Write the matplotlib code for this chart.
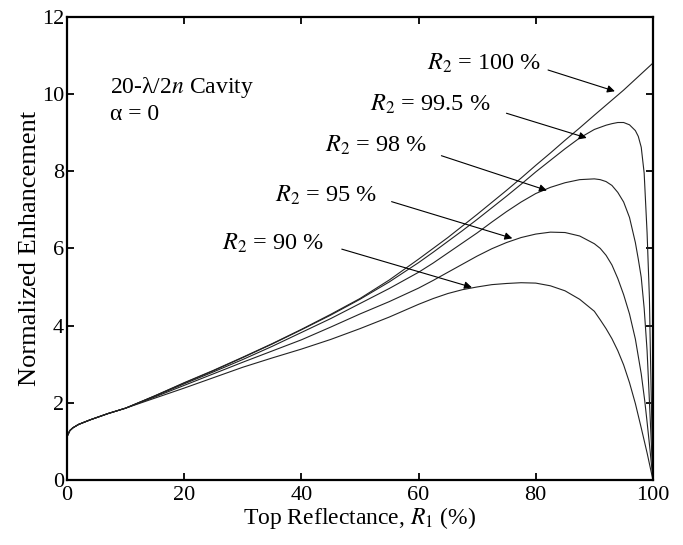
"""
RCE 腔增强因子随顶部反射率的变化 (α = 0)
"""
import numpy as np
import matplotlib
matplotlib.use('Agg')
import matplotlib.pyplot as plt

plt.rcParams['font.family'] = ['Liberation Serif', 'DejaVu Serif']
plt.rcParams['mathtext.fontset'] = 'stix'

# --- 数据: 顶部反射率 R1 (%) 与归一化增强 ---
r1_low = [0, 0.5, 1, 2, 4, 7, 10]
enh_low = [1.12, 1.28, 1.35, 1.44, 1.56, 1.72, 1.86]

r1_mid = [15, 20, 25, 30, 35, 40, 45, 50, 55, 60, 62.5, 65, 67.5, 70,
          72.5, 75, 77.5, 80, 82.5, 85, 87.5, 90]

# 各 R2 曲线在 r1_mid 上的取值
enh_100_mid = [2.18, 2.52, 2.84, 3.18, 3.53, 3.90, 4.29, 4.70, 5.18, 5.72, 6.00, 6.28, 6.58, 6.88,
               7.19, 7.50, 7.82, 8.15, 8.47, 8.80, 9.12, 9.45]
enh_995_mid = [2.18, 2.51, 2.83, 3.17, 3.52, 3.89, 4.27, 4.68, 5.13, 5.63, 5.90, 6.18, 6.46, 6.75,
               7.05, 7.35, 7.66, 7.98, 8.28, 8.58, 8.86, 9.08]
enh_98_mid = [2.17, 2.49, 2.80, 3.12, 3.46, 3.82, 4.18, 4.57, 4.96, 5.38, 5.62, 5.88, 6.14, 6.40,
              6.68, 6.95, 7.20, 7.42, 7.58, 7.70, 7.78, 7.80]
enh_95_mid = [2.15, 2.45, 2.75, 3.05, 3.34, 3.63, 3.96, 4.30, 4.62, 4.97, 5.17, 5.38, 5.59, 5.80,
              5.99, 6.15, 6.28, 6.37, 6.42, 6.41, 6.32, 6.12]
enh_90_mid = [2.12, 2.38, 2.65, 2.92, 3.16, 3.39, 3.64, 3.92, 4.22, 4.55, 4.70, 4.83, 4.93, 5.00,
              5.06, 5.09, 5.11, 5.10, 5.03, 4.90, 4.68, 4.37]

# 高反射率段 (R1 > 90 %)
r1_100_hi = [95, 100]
enh_100_hi = [10.10, 10.80]

r1_995_hi = [92, 93, 94, 95, 96, 97, 97.5, 98, 98.5, 99, 99.4, 99.6, 99.8, 100]
enh_995_hi = [9.19, 9.23, 9.26, 9.26, 9.20, 9.05, 8.90, 8.62, 7.95, 6.40, 4.70, 3.00, 1.50, 0.0]

r1_98_hi = [91, 92, 93, 94, 95, 96, 97, 97.5, 98, 98.5, 99, 99.5, 100]
enh_98_hi = [7.78, 7.73, 7.63, 7.45, 7.20, 6.80, 6.15, 5.72, 5.25, 4.45, 3.35, 1.70, 0.0]

r1_95_hi = [91, 92, 93, 94, 95, 96, 97, 98, 98.6, 99, 99.5, 100]
enh_95_hi = [6.00, 5.82, 5.57, 5.22, 4.80, 4.30, 3.65, 2.75, 2.05, 1.50, 0.78, 0.0]

r1_90_hi = [91, 92, 93, 94, 95, 96, 97, 98, 99, 100]
enh_90_hi = [4.15, 3.92, 3.66, 3.35, 2.98, 2.52, 1.98, 1.35, 0.70, 0.0]

# 标注: (文字, 文字位置, 箭头起点, 箭头终点)
labels = ['$R_2$ = 100 %', '$R_2$ = 99.5 %', '$R_2$ = 98 %', '$R_2$ = 95 %', '$R_2$ = 90 %']
label_xy = [(61.4, 10.80), (51.7, 9.74), (44.0, 8.66), (35.5, 7.38), (26.4, 6.14)]
arrow_from = [(82.1, 10.62), (75.0, 9.50), (63.9, 8.40), (55.4, 7.21), (46.9, 5.98)]
arrow_to = [(93.5, 10.07), (88.7, 8.86), (81.9, 7.50), (76.0, 6.26), (69.1, 4.99)]


def full_curve(mid, r1_hi, hi):
    x = r1_low + r1_mid + r1_hi
    y = enh_low + mid + hi
    return np.array(x), np.array(y)


curves = [
    full_curve(enh_100_mid, r1_100_hi, enh_100_hi),
    full_curve(enh_995_mid, r1_995_hi, enh_995_hi),
    full_curve(enh_98_mid, r1_98_hi, enh_98_hi),
    full_curve(enh_95_mid, r1_95_hi, enh_95_hi),
    full_curve(enh_90_mid, r1_90_hi, enh_90_hi),
]

fig = plt.figure(figsize=(6.83, 5.45), dpi=100)
ax = fig.add_axes([0.098, 0.1193, 0.858, 0.85])

for x, y in curves:
    ax.plot(x, y, color='#222222', lw=0.8)

for txt, pos, p0, p1 in zip(labels, label_xy, arrow_from, arrow_to):
    ax.text(pos[0], pos[1], txt, fontsize=17.5, va='center', ha='left')
    ax.annotate('', xy=p1, xytext=p0,
                arrowprops=dict(arrowstyle='-|>', lw=0.8, color='black',
                                mutation_scale=11, shrinkA=0, shrinkB=0))

ax.text(7.3, 10.16, '20-λ/2$n$ Cavity', fontsize=17, va='center', ha='left')
ax.text(7.3, 9.46, 'α = 0', fontsize=17, va='center', ha='left')

ax.set_xlim(0, 100)
ax.set_ylim(0, 12)
ax.set_xticks([0, 20, 40, 60, 80, 100])
ax.set_yticks([0, 2, 4, 6, 8, 10, 12])
ax.tick_params(direction='in', length=5, width=1.3, labelsize=16,
               top=True, right=True)
ax.tick_params(axis='x', pad=4)
ax.tick_params(axis='y', pad=2)
for s in ax.spines.values():
    s.set_linewidth(1.6)

ax.set_xlabel('Top Reflectance, $R_1$ (%)', fontsize=17, labelpad=0)
ax.set_ylabel('Normalized Enhancement', fontsize=19, labelpad=1)

fig.savefig('out.png', dpi=100)
